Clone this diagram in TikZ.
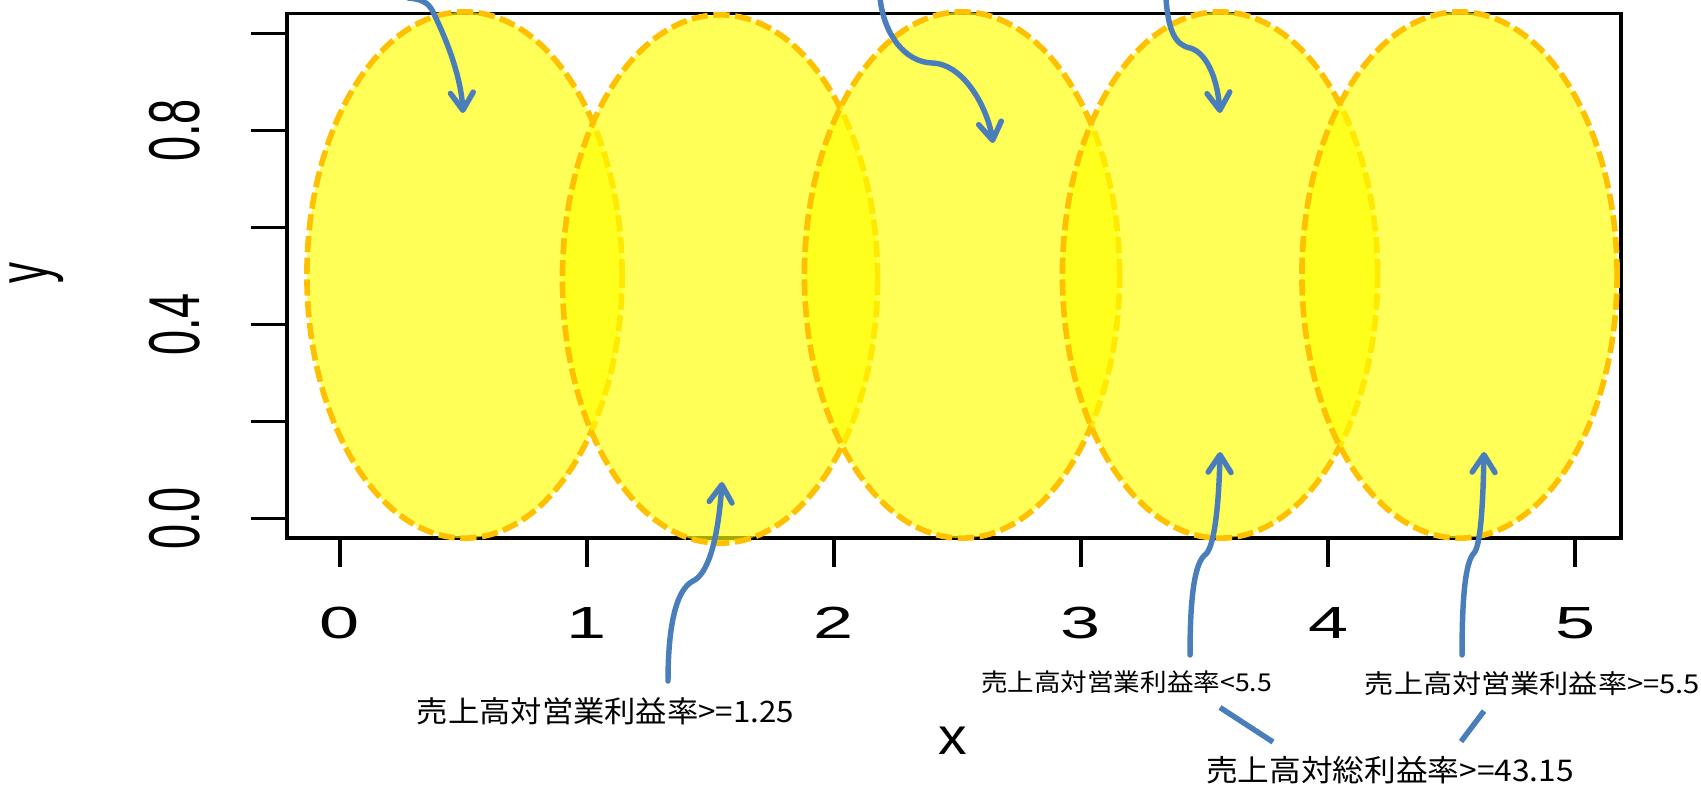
\documentclass[tikz,border=0pt]{standalone}
\usepackage{fontspec}
\usepackage{graphicx}
\setmainfont{Liberation Sans}
\newfontfamily\jpfont{Noto Sans CJK JP}
\usetikzlibrary{arrows.meta,shapes.geometric}
\definecolor{fillyel}{RGB}{255,255,0}
\definecolor{edgeorg}{RGB}{255,192,0}
\definecolor{arrblue}{RGB}{74,126,187}
\newcommand{\hs}[2]{\scalebox{#1}[1]{#2}}
\begin{document}
\begin{tikzpicture}[x=0.01cm,y=-0.01cm,
  axline/.style={line width=1pt, black},
  blob/.style={ellipse, draw=edgeorg, fill=fillyel, fill opacity=0.66, line width=1.6pt,
    dash pattern=on 4.6pt off 1.6pt, minimum width=3.15cm, minimum height=5.26cm, inner sep=0pt},
  axnum/.style={inner sep=0pt, font=\fontsize{12.8}{14}\selectfont},
  lbl/.style={inner sep=0pt},
  conn/.style={draw=arrblue, line width=1.55pt, line cap=round,
    -{Straight Barb[length=5pt,width=6.5pt,round]}},
  plainconn/.style={draw=arrblue, line width=1.55pt}
]
\useasboundingbox (0,0) rectangle (1701,785);
% axes
\draw[axline] (287,13.3) rectangle (1621,538);
\foreach \k in {0,...,5} \draw[axline] ({340+247*\k},538) -- ({340+247*\k},567);
\foreach \v in {33.3,130.5,227.5,324.5,421.5,518.3} \draw[axline] (251,\v) -- (287,\v);
\foreach \k in {0,...,5} \node[axnum] (xl\k) at ({340+247*\k},623) {\hs{1.6}{\k}};
\node[axnum] (yl0) at (175,518.3) {\hs{1.6}{\rotatebox{90}{0.0}}};
\node[axnum] (yl4) at (175,324.5) {\hs{1.6}{\rotatebox{90}{0.4}}};
\node[axnum] (yl8) at (175,130.5) {\hs{1.6}{\rotatebox{90}{0.8}}};
\node[inner sep=0pt, font=\fontsize{11.9}{13}\selectfont] (ylab) at (37,273) {\hs{1.75}{\rotatebox{90}{y}}};
\node[inner sep=0pt, font=\fontsize{14.8}{16}\selectfont] (xlab) at (953,741) {\hs{1.1}{x}};
% ellipses
\node[blob] (e1) at (464.5,275) {};
\node[blob, minimum height=5.28cm] (e2) at (720,279) {};
\node[blob] (e3) at (962,275) {};
\node[blob] (e4) at (1220,275) {};
\node[blob] (e5) at (1459.5,275) {};
% labels
\node[lbl, font=\jpfont\fontsize{8.4}{10}\selectfont] (l1) at (605.5,711) {\hs{1.06}{売上高対営業利益率>=1.25}};
\node[lbl, font=\jpfont\fontsize{7.0}{9}\selectfont] (l2) at (1126.5,682) {\hs{1.08}{売上高対営業利益率<5.5}};
\node[lbl, font=\jpfont\fontsize{7.4}{9}\selectfont] (l3) at (1532.5,683.5) {\hs{1.12}{売上高対営業利益率>=5.5}};
\node[lbl, font=\jpfont\fontsize{8.5}{10}\selectfont] (l4) at (1390,770) {\hs{1.06}{売上高対総利益率>=43.15}};
% connector end points
\coordinate (t1s) at (408,-2);
\coordinate (t1e) at (463,113);
\coordinate (t2s) at (880,-2);
\coordinate (t2e) at (993,143);
\coordinate (t3s) at (1166,-2);
\coordinate (t3e) at (1220,113);
\coordinate (b1s) at (668,681);
\coordinate (b1e) at (722,482);
\coordinate (b2s) at (1190,655);
\coordinate (b2e) at (1220,452);
\coordinate (b3s) at (1462,655);
\coordinate (b3e) at (1484,452);
\coordinate (c4a) at (1273,742);
\coordinate (c4b) at (1220,707.5);
\coordinate (c4c) at (1461,741.5);
\coordinate (c4d) at (1484,711);
% top arrows
\draw[conn] (t1s) .. controls (422,-1) and (428,3) .. (432,10) .. controls (448,42) and (461,78) .. (t1e);
\draw[conn] (t2s) .. controls (884,35) and (905,62) .. (932,63) .. controls (965,64) and (988,110) .. (t2e);
\draw[conn] (t3s) .. controls (1168,30) and (1175,45) .. (1190,48) .. controls (1205,52) and (1217,75) .. (t3e);
% bottom arrows
\draw[conn] (b1s) .. controls (668,630) and (675,590) .. (693,581) .. controls (708,574) and (718,540) .. (b1e);
\draw[conn] (b2s) .. controls (1190,600) and (1194,562) .. (1206,554) .. controls (1215,545) and (1219,500) .. (b2e);
\draw[conn] (b3s) .. controls (1462,600) and (1465,562) .. (1474,553) .. controls (1481,545) and (1483,500) .. (b3e);
% lines from bottom label
\draw[plainconn] (c4a) -- (c4b);
\draw[plainconn] (c4c) -- (c4d);
\end{tikzpicture}
\end{document}
